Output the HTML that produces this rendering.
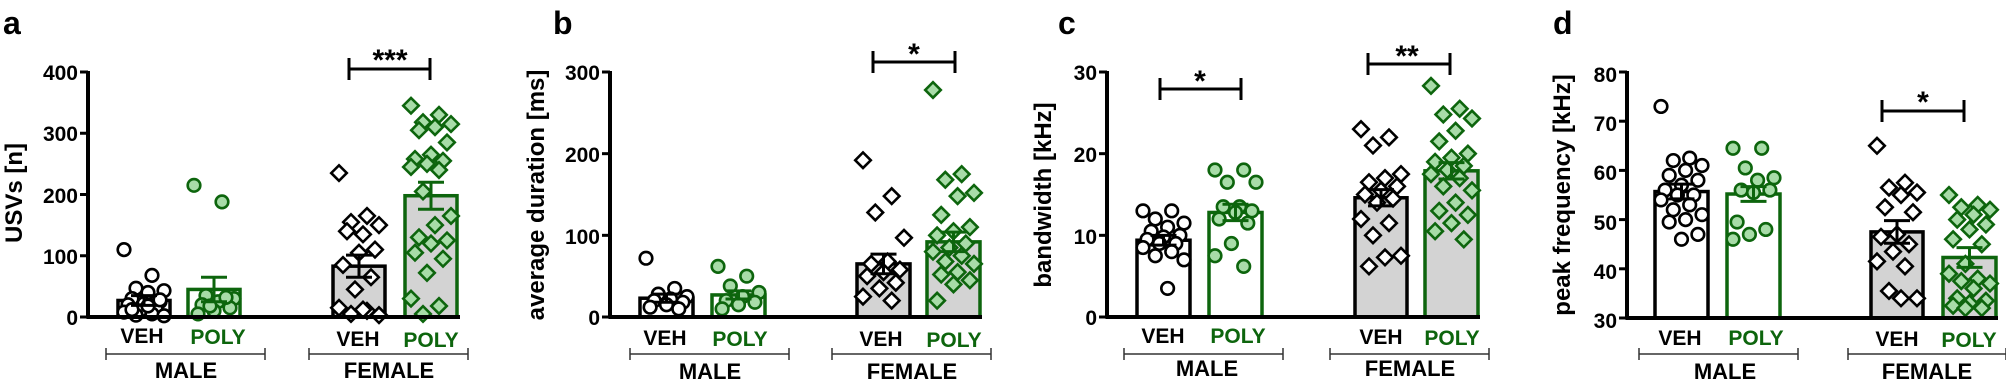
<!DOCTYPE html>
<html><head><meta charset="utf-8"><style>
body{margin:0;background:#fff;width:2006px;height:387px;overflow:hidden}
svg{display:block;font-family:"Liberation Sans",Arial,sans-serif;font-weight:bold}
.t{font-size:21px;text-anchor:end}
.c{text-anchor:middle}
.g{fill:#0d650d}
.l{font-size:21px}
.gl{font-size:22px}
.y{font-size:24px}
</style></head><body>
<svg id="s" width="2006" height="387" xmlns="http://www.w3.org/2000/svg">
<g id="shapes"></g>
<text x="3" y="34" font-size="32">a</text>
<text x="553" y="34" font-size="32">b</text>
<text x="1058" y="34" font-size="32">c</text>
<text x="1553" y="34" font-size="32">d</text>
<!-- a -->
<text class="t" x="78" y="80">400</text><text class="t" x="78" y="141">300</text><text class="t" x="78" y="203">200</text><text class="t" x="78" y="264">100</text><text class="t" x="78" y="325">0</text>
<text transform="translate(22,193) rotate(-90)" class="c y">USVs  [n]</text>
<text class="c l" x="142" y="343">VEH</text><text class="c g l" x="218" y="344">POLY</text>
<text class="c l" x="358" y="346">VEH</text><text class="c g l" x="431" y="347">POLY</text>
<text class="c gl" x="186" y="378">MALE</text><text class="c gl" x="389" y="378">FEMALE</text>
<text class="c" x="390" y="70" font-size="30">***</text>
<!-- b -->
<text class="t" x="600" y="80">300</text><text class="t" x="600" y="162">200</text><text class="t" x="600" y="244">100</text><text class="t" x="600" y="325">0</text>
<text transform="translate(544,195) rotate(-90)" class="c y">average duration [ms]</text>
<text class="c l" x="665" y="345">VEH</text><text class="c g l" x="740" y="346">POLY</text>
<text class="c l" x="881" y="346">VEH</text><text class="c g l" x="954" y="347">POLY</text>
<text class="c gl" x="710" y="379">MALE</text><text class="c gl" x="912" y="379">FEMALE</text>
<text class="c" x="914" y="64" font-size="30">*</text>
<!-- c -->
<text class="t" x="1097" y="80">30</text><text class="t" x="1097" y="162">20</text><text class="t" x="1097" y="244">10</text><text class="t" x="1097" y="325">0</text>
<text transform="translate(1051,195) rotate(-90)" class="c y">bandwidth [kHz]</text>
<text class="c l" x="1163" y="343">VEH</text><text class="c g l" x="1238" y="343">POLY</text>
<text class="c l" x="1381" y="344">VEH</text><text class="c g l" x="1452" y="345">POLY</text>
<text class="c gl" x="1207" y="376">MALE</text><text class="c gl" x="1410" y="376">FEMALE</text>
<text class="c" x="1200" y="91" font-size="30">*</text>
<text class="c" x="1407" y="66" font-size="30">**</text>
<!-- d -->
<text class="t" x="1617" y="82">80</text><text class="t" x="1617" y="131">70</text><text class="t" x="1617" y="180">60</text><text class="t" x="1617" y="230">50</text><text class="t" x="1617" y="279">40</text><text class="t" x="1617" y="328">30</text>
<text transform="translate(1570,195) rotate(-90)" class="c y">peak frequency [kHz]</text>
<text class="c l" x="1680" y="345">VEH</text><text class="c g l" x="1756" y="345">POLY</text>
<text class="c l" x="1897" y="346">VEH</text><text class="c g l" x="1969" y="347">POLY</text>
<text class="c gl" x="1725" y="379">MALE</text><text class="c gl" x="1927" y="379">FEMALE</text>
<text class="c" x="1923" y="112" font-size="30">*</text>
</svg>
<script>
var NS="http://www.w3.org/2000/svg",G=document.getElementById("shapes");
function el(n,a){var e=document.createElementNS(NS,n);for(var k in a)e.setAttribute(k,a[k]);G.appendChild(e);return e;}
function line(x1,y1,x2,y2,w,c){el("line",{x1:x1,y1:y1,x2:x2,y2:y2,stroke:c||"#000","stroke-width":w||3});}
var GR="#0d650d",LG="#a8dca8";
var P=[
{ax:88,y0:317,yt:72,min:0,max:400,ticks:[0,100,200,300,400],xe:460,
 bars:[[118,170],[188,240],[333,385],[405,457]],m:[27,45,83,198],e:[8,20,18,22],
 d:[[110,68,47,43,40,30,25,22,20,15,10,8,5,3,2,18,12,28],[215,188,35,30,25,20,15,10,5,32,18],
 [235,165,155,150,135,140,110,105,85,65,45,15,10,5,3,12],[345,330,318,315,310,305,285,265,258,255,250,245,240,205,165,150,130,125,120,105,95,72,30,18,5]],
 grp:[[106,265],[309,468]],sig:[[349,430,69]]},
{ax:610,y0:317,yt:72,min:0,max:300,ticks:[0,100,200,300],xe:982,
 bars:[[640,693],[712,765],[857,910],[927,980]],m:[23,27,65,92],e:[5,5,12,12],
 d:[[72,35,28,25,22,20,18,15,12,10],[62,50,38,30,25,20,18,15,10],[192,148,128,97,68,65,58,55,50,42,35,25,20],
 [278,175,168,152,148,125,110,105,100,90,85,80,75,68,65,55,52,45,40,20]],
 grp:[[630,789],[832,991]],sig:[[873,955,62]]},
{ax:1107,y0:317,yt:72,min:0,max:30,ticks:[0,10,20,30],xe:1480,
 bars:[[1137,1190],[1209,1262],[1355,1407],[1425,1478]],m:[9.4,12.8,14.6,17.9],e:[.6,1,1,1],
 d:[[13,13,12,11.5,11,10.5,10,9.8,9.5,9,9,8.5,8,7.5,7,3.5],[18,18,16.5,16.5,13.5,13.5,13,12.8,12,11.5,9,7.5,6.2],
 [23,22,21,17.5,17,16.5,16,15.5,15,14.5,14,12,11.5,10,7.5,7.3,6.2],[28.3,25.5,24.8,24.3,22.8,21.5,20,19.5,19,18.5,18,17.5,17,16,15.5,14,13,12.5,11.5,10.5,9.5]],
 grp:[[1124,1283],[1330,1489]],sig:[[1160,1241,89],[1368,1450,64]]},
{ax:1627,y0:318,yt:72,min:30,max:80,ticks:[30,40,50,60,70,80],xe:1998,
 bars:[[1655,1708],[1727,1780],[1871,1923],[1943,1996]],m:[55.7,55.2,47.5,42.3],e:[1.5,1.5,2.3,2],
 d:[[73,62.5,62,61,60,59,58,57,56,55,55,54,53,52,51,50,49.5,47,46],[64.5,64.5,60.5,58.5,58,56,56,55.5,49.5,48,47,46],
 [65,57.5,56.5,55.5,55,52.5,51.5,47,46.5,45,43.5,41.5,40.5,35.5,34,34],[55,53,52.5,52,51,50,49,48,46,45,41,39,38,37.5,37,36,34,33.5,33,32.5,32,32]],
 grp:[[1639,1798],[1848,2006]],sig:[[1882,1964,111]]}];
P.forEach(function(p){
 function Y(v){return p.y0-(v-p.min)/(p.max-p.min)*(p.y0-p.yt);}
 p.bars.forEach(function(b,i){
  var col=i%2?GR:"#000",fill=i<2?"#fff":"#d3d3d3";
  el("rect",{x:b[0],y:Y(p.m[i]),width:b[1]-b[0],height:p.y0-Y(p.m[i]),fill:fill,stroke:col,"stroke-width":3.5});
 });
 p.bars.forEach(function(b,i){
  var col=i%2?GR:"#000",cx=(b[0]+b[1])/2,w=b[1]-b[0];
  p.d[i].forEach(function(v,j){
   var x=cx+(((j*7)%11)-5)*(w-12)/10,y=Y(v);
   if(i<2)el("circle",{cx:x,cy:y,r:6.3,fill:i%2?LG:"#fff",stroke:col,"stroke-width":2.6});
   else el("rect",{x:x-5.5,y:y-5.5,width:11,height:11,transform:"rotate(45 "+x+" "+y+")",fill:i%2?LG:"#fff",stroke:col,"stroke-width":2.6});
  });
  var yt=Y(p.m[i]+p.e[i]),yb=Y(p.m[i]-p.e[i]);
  line(cx,yt,cx,yb,3,col);line(cx-13,yt,cx+13,yt,3,col);line(cx-13,yb,cx+13,yb,3,col);
 });
 line(p.ax,p.yt-1,p.ax,p.y0+1.5,4);line(p.ax-1.5,p.y0,p.xe,p.y0,4);
 p.ticks.forEach(function(t){line(p.ax-8,Y(t),p.ax,Y(t),3);});
 p.grp.forEach(function(g){line(g[0],354,g[1],354,1.5,"#333");line(g[0],348,g[0],360,1.5,"#333");line(g[1],348,g[1],360,1.5,"#333");});
 p.sig.forEach(function(s){line(s[0],s[2],s[1],s[2],3);line(s[0],s[2]-11,s[0],s[2]+11,3);line(s[1],s[2]-11,s[1],s[2]+11,3);});
});
</script>
</body></html>
